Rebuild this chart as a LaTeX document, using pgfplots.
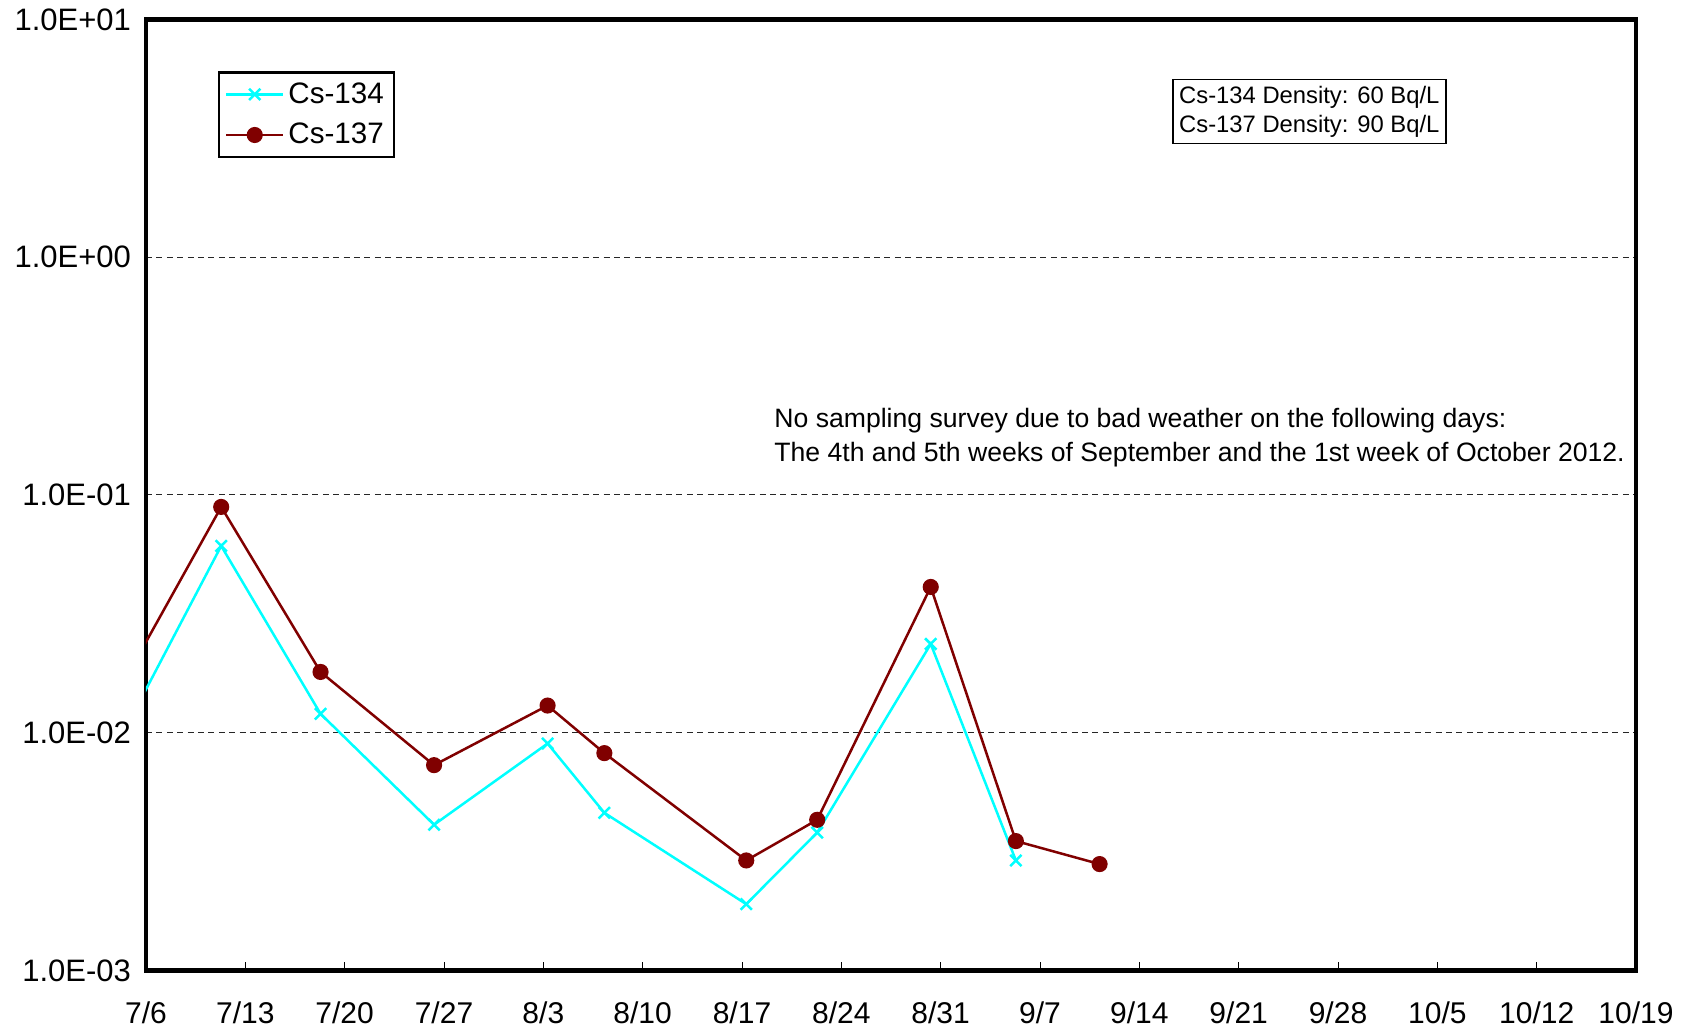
\documentclass[border=0pt]{standalone}
\usepackage{fontspec}
\setmainfont{Liberation Sans}
\usepackage{pgfplots}
\pgfplotsset{compat=1.18}
\definecolor{csA}{RGB}{0,255,255}
\definecolor{csB}{RGB}{128,0,0}
\begin{document}
\begin{tikzpicture}
\begin{axis}[
  scale only axis,
  width=745pt, height=475.5pt,
  ymode=log,
  xmin=0, xmax=105,
  ymin=1e-3, ymax=10,
  xtick={0,7,...,105},
  xticklabels={7/6,7/13,7/20,7/27,8/3,8/10,8/17,8/24,8/31,9/7,9/14,9/21,9/28,10/5,10/12,10/19},
  ytick={1e-3,1e-2,1e-1,1,10},
  yticklabels={1.0E-03,1.0E-02,1.0E-01,1.0E+00,1.0E+01},
  minor ytick={},
  /pgf/number format/assume math mode=true,
  tick align=inside,
  xtick pos=bottom,
  ytick pos=left,
  major tick length=4pt,
  x tick style={line width=0.5pt,black},
  y tick style={draw=none},
  ymajorgrids,
  major grid style={dash pattern=on 3pt off 2.2pt, line width=0.45pt, black!85},
  axis line style={line width=2.2pt},
  xticklabel style={font=\fontsize{15}{18}\selectfont, yshift=-12pt},
  yticklabel style={font=\fontsize{15.5}{18}\selectfont, xshift=-4pt},
  legend style={at={(0.0483,0.9453)}, anchor=north west, draw=black, line width=1.1pt,
    font=\fontsize{14.8}{17}\selectfont, inner sep=3pt, row sep=4.5pt,
    legend cell align=left},
  legend image code/.code={
    \draw[mark repeat=2,mark phase=2,#1] plot coordinates {(0cm,0cm) (0.5cm,0cm) (1.0cm,0cm)};
  },
]
\addplot[csA, line width=1.25pt, mark=x, mark size=4pt, mark options={line width=1.25pt}]
coordinates {(-2,0.0090)(5.3,0.061)(12.3,0.012)(20.3,0.0041)(28.3,0.0090)(32.3,0.0046)(42.3,0.0019)(47.3,0.0038)(55.3,0.0236)(61.3,0.0029)};
\addlegendentry{Cs-134}
\addplot[csB, line width=1.25pt, mark=*, mark size=3.4pt, mark options={fill=csB}]
coordinates {(-2,0.0147)(5.3,0.089)(12.3,0.018)(20.3,0.0073)(28.3,0.013)(32.3,0.0082)(42.3,0.0029)(47.3,0.0043)(55.3,0.041)(61.3,0.0035)(67.2,0.0028)};
\addlegendentry{Cs-137}
\node[draw=black, line width=0.8pt, anchor=north west, align=left, inner sep=3.2pt,
  font=\fontsize{11.9}{14.6}\selectfont] at (axis description cs:0.6886,0.9377)
  {Cs-134 Density: 60 Bq/L\\Cs-137 Density: 90 Bq/L};
\node[anchor=north west, align=left, inner sep=0pt,
  font=\fontsize{13.3}{17.2}\selectfont] at (axis description cs:0.4215,0.592)
  {No sampling survey due to bad weather on the following days:\\The 4th and 5th weeks of September and the 1st week of October 2012.};
\end{axis}
\path (current axis.south west) ++(-73pt,-30.5pt) coordinate (bbA);
\path (current axis.north east) ++(26pt,9.7pt) coordinate (bbB);
\path (bbA) rectangle (bbB);
\end{tikzpicture}
\end{document}
